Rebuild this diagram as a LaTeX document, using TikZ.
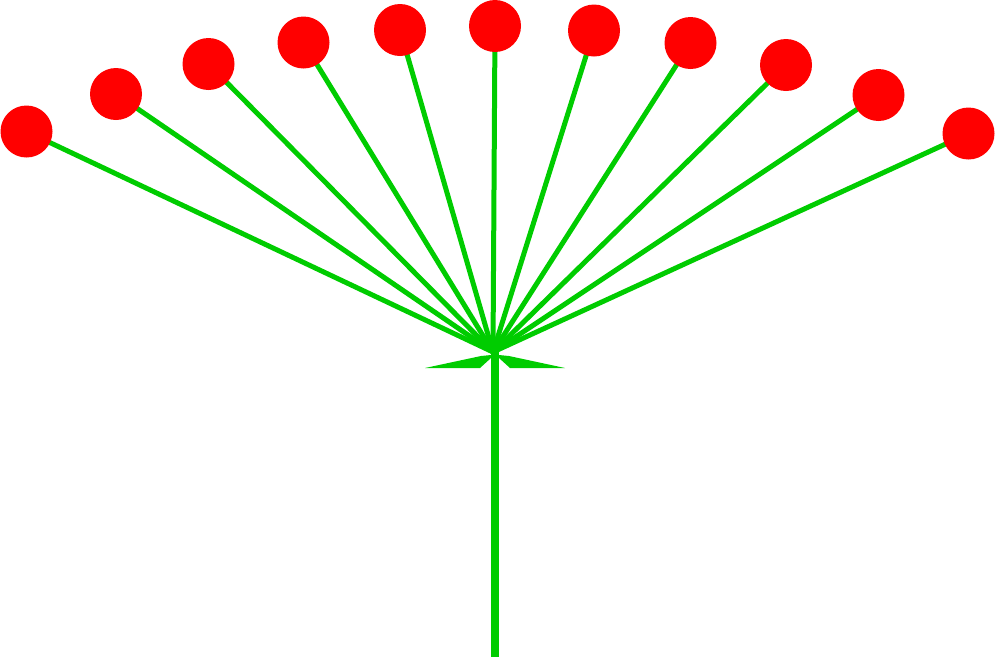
\documentclass[tikz,border=0pt]{standalone}
\definecolor{stemgreen}{RGB}{0,204,0}
\definecolor{budred}{RGB}{255,0,0}
\begin{document}
\begin{tikzpicture}[x=0.75pt,y=-0.75pt,
  ray/.style={draw=stemgreen,line width=3.75pt},
  stalk/.style={draw=stemgreen,line width=6pt},
  bract/.style={fill=stemgreen},
  bud/.style={circle,fill=budred,minimum size=39pt,inner sep=0pt,draw=none}]
\useasboundingbox (0,0) rectangle (1000,661);
\coordinate (hub) at (493,352);
\coordinate (stemtop) at (495,350);
\coordinate (stembot) at (495,657);
\coordinate (c1) at (26.5,131.5);
\coordinate (c2) at (116,94);
\coordinate (c3) at (208.5,64);
\coordinate (c4) at (303.5,42.5);
\coordinate (c5) at (400,30);
\coordinate (c6) at (495,26);
\coordinate (c7) at (594,30.5);
\coordinate (c8) at (690.5,43);
\coordinate (c9) at (786,65);
\coordinate (c10) at (878.5,95);
\coordinate (c11) at (968.5,133.5);
\draw[stalk] (stemtop) -- (stembot);
\fill[bract] (425,368) -- (481,356) -- (491,355) -- (491,358) -- (480,368) -- cycle;
\fill[bract] (565,368) -- (509,356) -- (499,355) -- (499,358) -- (510,368) -- cycle;
\foreach \i in {1,...,11} {\draw[ray] (hub) -- (c\i);}
\foreach \i in {1,...,11} {\node[bud] (b\i) at (c\i) {};}
\end{tikzpicture}
\end{document}
